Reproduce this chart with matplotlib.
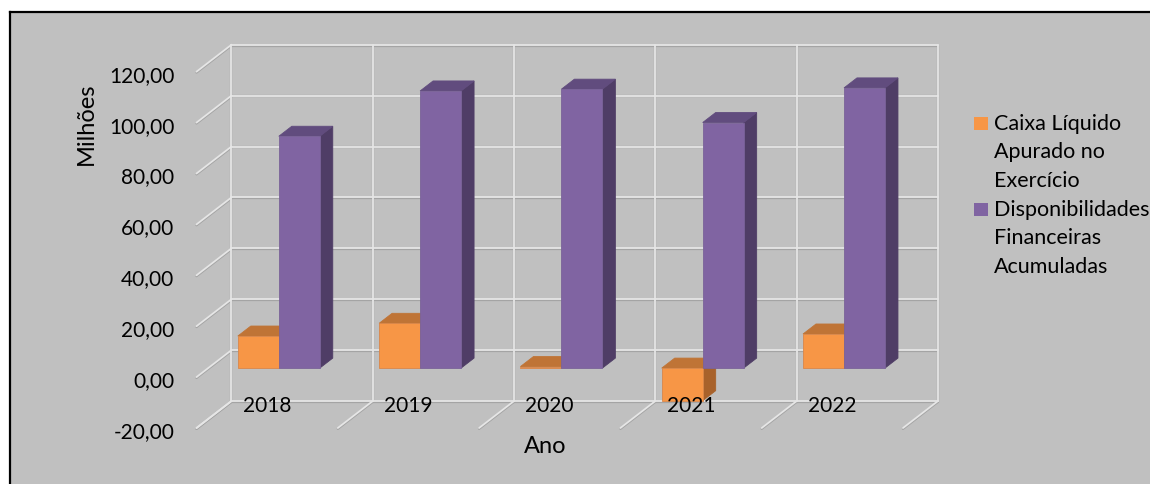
import matplotlib
matplotlib.use("Agg")
import matplotlib.pyplot as plt
from matplotlib.patches import Polygon, Rectangle
from matplotlib.lines import Line2D

plt.rcParams['font.family'] = ['Lato', 'DejaVu Sans']

# ---- data ----
anos = ["2018", "2019", "2020", "2021", "2022"]
caixa_liquido = [12.6, 17.6, 0.6, -12.8, 13.4]
disponibilidades = [91.1, 108.9, 109.6, 96.5, 110.1]
series_names = ["Caixa Líquido\nApurado no\nExercício",
                "Disponibilidades\nFinanceiras\nAcumuladas"]
y_ticks = [-20, 0, 20, 40, 60, 80, 100, 120]
y_ticklabels = ["-20,00", "0,00", "20,00", "40,00", "60,00", "80,00", "100,00", "120,00"]

# ---- style ----
BG = "#C0C0C0"
front_cols = ["#F79646", "#8064A2"]
top_cols = ["#BF7436", "#614C7E"]
side_cols = ["#A8622B", "#4F3D66"]
edge_cols = ["#D9874A", "#7A6399"]
GRID_LIGHT = "#E6E6E6"
GRID_DARK = "#A4A4A4"

W, H = 1150, 485
fig = plt.figure(figsize=(W / 100, H / 100), dpi=100)
fig.patch.set_facecolor("white")

# chart area (gray) with black top/left border
bg_ax = fig.add_axes([0, 0, 1, 1])
bg_ax.set_xlim(0, W)
bg_ax.set_ylim(H, 0)
bg_ax.axis("off")
bg_ax.add_patch(Rectangle((9.5, 13), W, H, facecolor=BG, edgecolor="none"))
bg_ax.plot([9.5, 9.5], [H, 13], color="black", lw=1.6)
bg_ax.plot([9.5, W], [13, 13], color="black", lw=1.6)

# back wall axes
left_px, right_px, top_px, bot_px = 231.5, 938.0, 45.7, 402.0
ax = fig.add_axes([left_px / W, (H - bot_px) / H,
                   (right_px - left_px) / W, (bot_px - top_px) / H])
ax.set_xlim(0, len(anos))
ax.set_ylim(y_ticks[0], y_ticks[-1])
ax.axis("off")

px_per_cat = (right_px - left_px) / len(anos)
px_per_val = (bot_px - top_px) / (y_ticks[-1] - y_ticks[0])
DX = -35.0 / px_per_cat      # full depth offset (front) in category units
DY = -27.0 / px_per_val      # full depth offset (front) in value units


def P(c, v, z):
    """point at category c, value v, depth z (0=back wall, 1=front)"""
    return (c + DX * z, v + DY * z)


def gline(xs, ys):
    ax.add_line(Line2D(xs, [y - 0.35 for y in ys],
                       color=GRID_DARK, lw=1.6, clip_on=False, zorder=1,
                       solid_capstyle="round"))
    ax.add_line(Line2D(xs, ys, color=GRID_LIGHT, lw=1.3, clip_on=False, zorder=2,
                       solid_capstyle="round"))


n = len(anos)
ymin, ymax = y_ticks[0], y_ticks[-1]
# back wall horizontals + left wall diagonals
for v in y_ticks:
    gline([0, n], [v, v])
    a, b = P(0, v, 0), P(0, v, 1)
    gline([a[0], b[0]], [a[1], b[1]])
# back wall verticals + floor diagonals
for k in range(n + 1):
    gline([k, k], [ymin, ymax])
    a, b = P(k, ymin, 0), P(k, ymin, 1)
    gline([a[0], b[0]], [a[1], b[1]])

# bars
z_back, z_front = 0.296, 0.667
bar_w = 0.29
gap = (1 - 2 * bar_w) / 2
zo = 5
for i in range(n):
    for s, vals in enumerate([caixa_liquido, disponibilidades]):
        v = vals[i]
        x0 = i + gap + s * bar_w
        x1 = x0 + bar_w
        lo, hi = min(0, v), max(0, v)
        side = [P(x1, lo, z_front), P(x1, lo, z_back), P(x1, hi, z_back), P(x1, hi, z_front)]
        ax.add_patch(Polygon(side, closed=True, facecolor=side_cols[s],
                             edgecolor=side_cols[s], lw=0.6, clip_on=False, zorder=zo))
        top = [P(x0, hi, z_front), P(x0, hi, z_back), P(x1, hi, z_back), P(x1, hi, z_front)]
        ax.add_patch(Polygon(top, closed=True, facecolor=top_cols[s],
                             edgecolor=top_cols[s], lw=0.6, clip_on=False, zorder=zo))
        front = [P(x0, lo, z_front), P(x0, hi, z_front), P(x1, hi, z_front), P(x1, lo, z_front)]
        ax.add_patch(Polygon(front, closed=True, facecolor=front_cols[s],
                             edgecolor=edge_cols[s], lw=0.6, clip_on=False, zorder=zo))
        zo += 1

FS_TICK = 15
FS_LEG = 15.5
FS_TITLE = 17
# y tick labels
for v, lab in zip(y_ticks, y_ticklabels):
    x, y = P(0, v, 1)
    ax.text(x - 22 / px_per_cat, y - 3 / px_per_val, lab, ha="right", va="center",
            fontsize=FS_TICK, color="black", clip_on=False, zorder=20)

# category labels
for i, lab in enumerate(anos):
    x, _ = P(i + 0.5, ymin, 1)
    ax.text(x, ymin - 4 / px_per_val, lab, ha="center", va="center",
            fontsize=FS_TICK, color="black", clip_on=False, zorder=20)

# axis titles
bg_ax.text(86, 124, "Milhões", rotation=90, ha="center", va="center",
           fontsize=FS_TITLE, color="black")
bg_ax.text(545, 447, "Ano", ha="center", va="center", fontsize=FS_TITLE, color="black")

# legend
leg_y = [124, 210]
for s, name in enumerate(series_names):
    y0 = leg_y[s]
    bg_ax.add_patch(Rectangle((974, y0 - 6.5), 13.5, 13.5, facecolor=front_cols[s],
                              edgecolor="none"))
    for j, line in enumerate(name.split("\n")):
        bg_ax.text(994, y0 + j * 28.5, line, ha="left", va="center",
                   fontsize=FS_LEG, color="black")

fig.savefig("out.png", dpi=100, facecolor="white")
